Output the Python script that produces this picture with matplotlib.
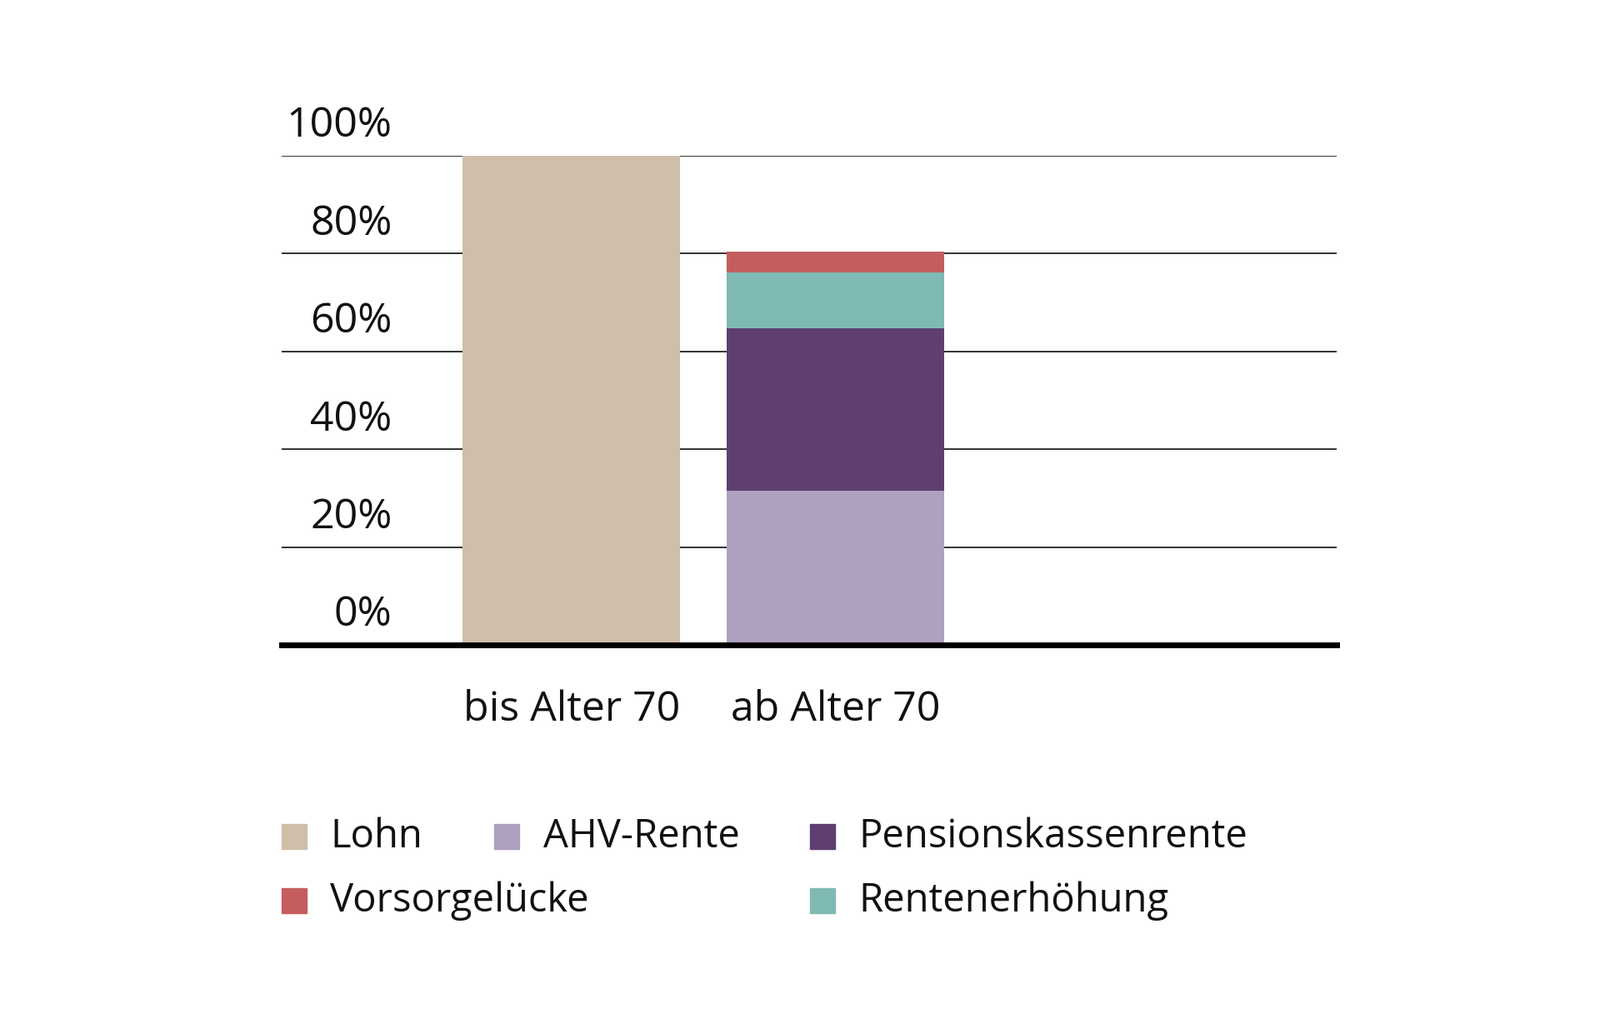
import matplotlib
matplotlib.use("Agg")
import matplotlib.pyplot as plt
from matplotlib.patches import Rectangle

categories = ["bis Alter 70", "ab Alter 70"]
lohn = [100, 0]
ahv = [0, 31.5]
pk = [0, 33.2]
re_ = [0, 11.5]
vl = [0, 4.2]
ticks = [0, 20, 40, 60, 80, 100]
tick_labels = ["0%", "20%", "40%", "60%", "80%", "100%"]

colors = {"Lohn": "#cfbea9", "AHV-Rente": "#afa0bf", "Pensionskassenrente": "#5f3f71",
          "Vorsorgelücke": "#c45e5e", "Rentenerhöhung": "#7fb9b3"}

plt.rcParams["font.family"] = "Open Sans"
W, H = 1550, 978
fig = plt.figure(figsize=(19.2, 12.11), dpi=100)
ax = fig.add_axes([273/W, 1-625/H, (1295-273)/W, (625-151)/H])
ax.set_xlim(-1.096, 2.897)
ax.set_ylim(0, 100)
ax.axis("off")
for t in ticks[1:]:
    ax.axhline(t, color="#222222", lw=1.3, zorder=0)
ax.axhline(0, color="black", lw=5, zorder=5, clip_on=False)
for t, l in zip(ticks, tick_labels):
    ax.text(-0.678, t + 1.8, l, ha="right", va="bottom", fontsize=36, color="#111111")

x = [0, 1]
w = 0.824
ax.bar(x, lohn, w, color=colors["Lohn"], zorder=2)
b = [0, 0]
for vals, name in [(ahv, "AHV-Rente"), (pk, "Pensionskassenrente"), (re_, "Rentenerhöhung"), (vl, "Vorsorgelücke")]:
    ax.bar(x, vals, w, bottom=b, color=colors[name], zorder=2)
    b = [bb + v for bb, v in zip(b, vals)]

for xi, c in zip(x, categories):
    ax.text(xi, -13.3, c, ha="center", va="center", fontsize=36, color="#111111")

legend = [("Lohn", 285, 811), ("AHV-Rente", 491, 811), ("Pensionskassenrente", 797, 811),
          ("Vorsorgelücke", 285, 873), ("Rentenerhöhung", 797, 873)]
s = 24
for name, cx, cy in legend:
    fig.patches.append(Rectangle(((cx - s/2)/W, 1-(cy + s/2)/H), s/W, s/H,
                                 transform=fig.transFigure, color=colors[name]))
    fig.text((cx + 35)/W, 1-cy/H, name, ha="left", va="center", fontsize=34, color="#111111")

fig.savefig("out.png", dpi=100, facecolor="white")
